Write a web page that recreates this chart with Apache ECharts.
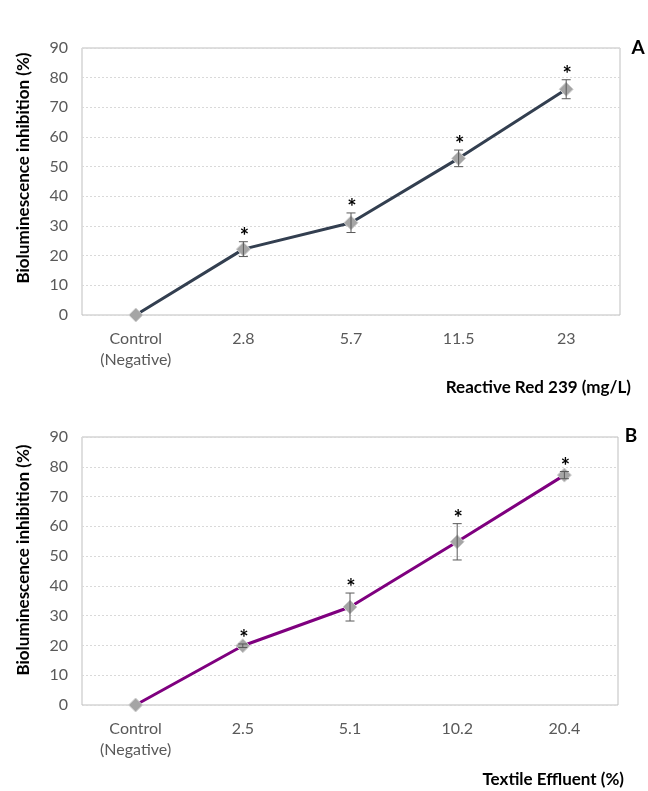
<!DOCTYPE html>
<html><head><meta charset="utf-8">
<script src="https://cdn.jsdelivr.net/npm/echarts@6/dist/echarts.min.js"></script>
<style>html,body{margin:0;padding:0;background:#fff}#c{width:648px;height:791px}</style>
</head><body><div id="c"></div>
<script>
const categoriesA = ['Control\n(Negative)', '2.8', '5.7', '11.5', '23'];
const valuesA = [0, 22.2, 31.1, 52.8, 76.1];
const errorsA = [0, 2.5, 3.3, 2.8, 3.2];
const starsA = ['', '*', '*', '*', '*'];

const categoriesB = ['Control\n(Negative)', '2.5', '5.1', '10.2', '20.4'];
const valuesB = [0, 19.9, 32.9, 54.8, 77.2];
const errorsB = [0, 0.6, 4.7, 6.1, 1.2];
const starsB = ['', '*', '*', '*', '*'];

const yTicks = [0, 10, 20, 30, 40, 50, 60, 70, 80, 90];
const yTitle = 'Bioluminescence inhibition (%)';
const xTitleA = 'Reactive Red 239 (mg/L)';
const xTitleB = 'Textile Effluent (%)';

const FONT = 'Lato';
const chart = echarts.init(document.getElementById('c'), null, {renderer: 'canvas'});

function xAxis(idx, cats) {
  return {
    type: 'category', gridIndex: idx, data: cats, boundaryGap: true,
    axisLine: {show: false}, axisTick: {show: false},
    axisLabel: {color: '#595959', fontFamily: FONT, fontSize: 16, margin: 13, lineHeight: 21}
  };
}
function yAxis(idx) {
  return {
    type: 'value', gridIndex: idx, min: yTicks[0], max: yTicks[yTicks.length - 1], interval: 10,
    axisLine: {show: false}, axisTick: {show: false},
    axisLabel: {color: '#595959', fontFamily: FONT, fontSize: 16, margin: 14},
    splitLine: {show: true, lineStyle: {color: '#d9d9d9', type: [2, 2], width: 1}}
  };
}
function errSeries(idx, vals, errs, stars) {
  return {
    type: 'custom', xAxisIndex: idx, yAxisIndex: idx, z: 5,
    data: vals.map((v, i) => [i, v, errs[i], stars[i]]),
    renderItem: function (params, api) {
      const x = api.value(0), v = api.value(1), e = api.value(2);
      const top = api.coord([x, v + e]);
      const bot = api.coord([x, v - e]);
      const cw = 4.5;
      const children = [];
      if (e > 0) {
        const st = {stroke: '#595959', lineWidth: 1};
        children.push({type: 'line', shape: {x1: top[0], y1: top[1], x2: bot[0], y2: bot[1]}, style: st});
        children.push({type: 'line', shape: {x1: top[0] - cw, y1: top[1], x2: top[0] + cw, y2: top[1]}, style: st});
        children.push({type: 'line', shape: {x1: bot[0] - cw, y1: bot[1], x2: bot[0] + cw, y2: bot[1]}, style: st});
      }
      const s = api.value(3);
      if (s) {
        children.push({type: 'text', x: top[0] + 1, y: top[1] - 5,
          style: {text: '*', fill: '#000', font: 'bold 22px ' + FONT, align: 'center', verticalAlign: 'middle'}});
      }
      return {type: 'group', children: children};
    }
  };
}
function lineSeries(idx, vals, color) {
  return {
    type: 'line', xAxisIndex: idx, yAxisIndex: idx, data: vals, z: 3,
    lineStyle: {color: color, width: 3}, itemStyle: {color: '#a5a5a5', borderColor: '#d0d0d0', borderWidth: 1},
    symbol: 'diamond', symbolSize: 14, showSymbol: true, silent: true, animation: false
  };
}

chart.setOption({
  animation: false,
  grid: [
    {left: 82, right: 28, top: 48, height: 267, show: true, borderColor: '#bfbfbf', borderWidth: 1, backgroundColor: '#fff'},
    {left: 82, right: 30, top: 437, height: 268, show: true, borderColor: '#bfbfbf', borderWidth: 1, backgroundColor: '#fff'}
  ],
  xAxis: [xAxis(0, categoriesA), xAxis(1, categoriesB)],
  yAxis: [yAxis(0), yAxis(1)],
  series: [
    lineSeries(0, valuesA, '#333f50'),
    errSeries(0, valuesA, errorsA, starsA),
    lineSeries(1, valuesB, '#7f007f'),
    errSeries(1, valuesB, errorsB, starsB)
  ],
  graphic: [
    {type: 'text', x: 24, y: 168, rotation: Math.PI / 2, style: {text: yTitle, font: 'bold 17px ' + FONT, fill: '#000', align: 'center', verticalAlign: 'middle'}},
    {type: 'text', x: 24, y: 560, rotation: Math.PI / 2, style: {text: yTitle, font: 'bold 17px ' + FONT, fill: '#000', align: 'center', verticalAlign: 'middle'}},
    {type: 'text', x: 631, y: 388, style: {text: xTitleA, font: 'bold 17px ' + FONT, fill: '#000', align: 'right', verticalAlign: 'middle'}},
    {type: 'text', x: 624, y: 780, style: {text: xTitleB, font: 'bold 17px ' + FONT, fill: '#000', align: 'right', verticalAlign: 'middle'}},
    {type: 'text', x: 638, y: 48, style: {text: 'A', font: 'bold 19px ' + FONT, fill: '#000', align: 'center', verticalAlign: 'middle'}},
    {type: 'text', x: 631, y: 436, style: {text: 'B', font: 'bold 19px ' + FONT, fill: '#000', align: 'center', verticalAlign: 'middle'}}
  ]
});
</script></body></html>
